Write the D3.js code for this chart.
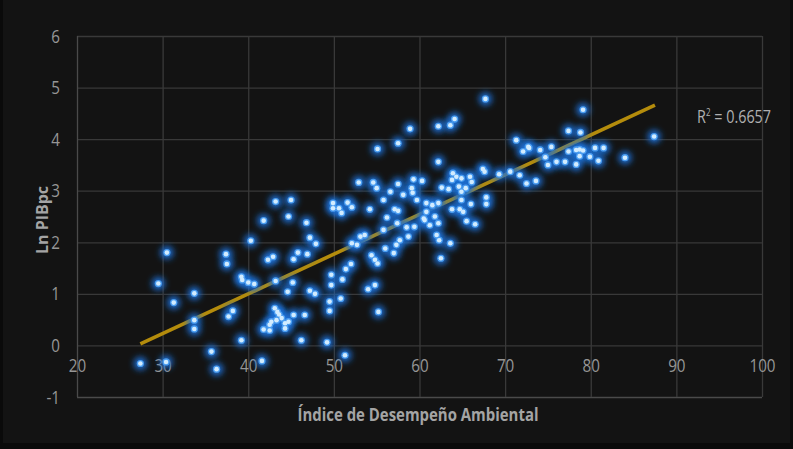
<!DOCTYPE html>
<html>
<head>
<meta charset="utf-8">
<script src="https://cdn.jsdelivr.net/npm/d3@7"></script>
<style>
  html, body { margin: 0; padding: 0; background: #0b0b0b; }
  svg { display: block; }
</style>
</head>
<body>
<svg id="chart" width="793" height="449"></svg>
<script>
// Environmental Performance Index (x) vs. log GDP per capita (y)
const epi = [
  27.4, 29.5, 30.4, 30.5, 31.3, 33.7, 33.7, 33.7, 35.7, 36.3, 37.4, 37.5, 37.7, 38.2, 39.2, 39.3, 39.2, 40.0, 40.7, 40.3, 41.8, 41.6,
  43.2, 45.0, 44.7, 42.3, 42.9, 43.2, 45.2, 44.6, 45.3, 45.8, 46.9, 46.8, 47.2, 47.9, 47.2, 47.8,
  43.1, 43.4, 43.6, 43.9, 43.3, 42.7, 42.5, 44.3, 44.7, 44.3, 42.5, 41.8, 45.3, 46.6,
  46.2, 49.2, 51.3,
  49.7, 49.7, 49.5, 49.5, 50.8, 51.0, 51.4, 52.0,
  54.0, 54.8, 55.2, 54.4, 54.8, 55.1, 57.0, 56.0,
  58.9, 55.1, 57.5, 52.9, 54.6, 55.0, 57.5, 56.6, 59.3, 60.3, 59.1, 59.2, 59.7, 58.1, 55.8,
  49.9, 49.9, 50.6, 50.9, 51.6, 52.1, 54.2, 57.1, 57.5, 56.2, 57.4, 58.5, 59.4, 60.6, 55.8, 53.1, 53.6, 52.1, 52.7, 57.7, 58.7, 57.3,
  62.2, 63.6, 64.1, 71.3, 72.1, 72.7, 62.2, 67.4, 67.6, 69.3, 70.6, 71.7, 72.5,
  63.9, 64.3, 63.8, 64.9, 65.9, 66.1, 62.6, 63.4, 64.6, 64.9, 65.4, 67.8, 67.8, 60.8, 61.5, 62.2, 64.9, 63.8, 64.7, 65.1, 66.0,
  60.8, 60.5, 61.2, 61.8, 62.2, 65.5, 66.5, 62.0, 62.3, 62.5, 63.6,
  67.7, 79.1, 77.4, 78.8, 84.0, 81.5, 80.5, 79.9, 80.9, 78.3, 78.7, 79.1, 78.7, 78.3, 77.4, 77.0, 76.0, 75.4, 74.1, 75.0, 74.7, 72.8, 73.6,
  87.4
];
const lnPib = [
  -0.35, 1.20, -0.32, 1.80, 0.83, 1.01, 0.49, 0.32, -0.12, -0.46, 1.77, 1.58, 0.56, 0.67, 1.33, 1.27, 0.10, 1.22, 1.19, 2.03, 2.42, -0.30,
  2.79, 2.82, 2.50, 1.66, 1.72, 1.25, 1.22, 1.04, 1.67, 1.80, 1.77, 2.38, 2.09, 1.97, 1.06, 1.00,
  0.72, 0.65, 0.60, 0.53, 0.49, 0.46, 0.40, 0.43, 0.46, 0.33, 0.29, 0.31, 0.59, 0.59,
  0.10, 0.06, -0.19,
  1.37, 1.17, 0.85, 0.67, 0.91, 1.28, 1.48, 1.58,
  1.09, 1.17, 0.65, 1.75, 1.66, 1.59, 1.79, 1.88,
  4.20, 3.81, 3.92, 3.16, 3.16, 3.05, 3.13, 2.98, 3.22, 3.19, 3.05, 2.96, 2.82, 2.92, 2.82,
  2.76, 2.66, 2.66, 2.57, 2.77, 2.68, 2.64, 2.64, 2.61, 2.48, 2.37, 2.29, 2.30, 2.43, 2.24, 2.11, 2.14, 1.98, 1.95, 2.04, 2.11, 1.95,
  4.25, 4.27, 4.39, 3.98, 3.76, 3.85, 3.56, 3.42, 3.37, 3.32, 3.37, 3.30, 3.14,
  3.34, 3.27, 3.21, 3.24, 3.27, 3.17, 3.06, 3.03, 3.08, 2.98, 3.05, 2.87, 2.74, 2.76, 2.72, 2.76, 2.82, 2.64, 2.64, 2.59, 2.74,
  2.59, 2.46, 2.33, 2.50, 2.37, 2.41, 2.35, 2.14, 2.04, 1.69, 1.98,
  4.78, 4.57, 4.16, 4.13, 3.64, 3.83, 3.83, 3.66, 3.58, 3.79, 3.80, 3.78, 3.67, 3.51, 3.76, 3.56, 3.56, 3.85, 3.79, 3.50, 3.65, 3.83, 3.19,
  4.05
];

// Linear trend (slope, intercept) and its x extent
const trendCoef = [0.0770, -2.080];
const trendRange = [27.4, 87.5];
const rSquared = "0.6657";

const xTicks = [20, 30, 40, 50, 60, 70, 80, 90, 100];
const yTicks = [-1, 0, 1, 2, 3, 4, 5, 6];

(function draw() {
  const svg = d3.select("#chart");
  const W = 793, H = 449;
  const m = { left: 77, right: 762, top: 36, bottom: 397 };
  const font = "'Open Sans', 'DejaVu Sans', sans-serif";
  const squeeze = 0.8;   // horizontal compression for a narrow label face

  // page background with darker frame
  svg.append("rect").attr("x", 0).attr("y", 0).attr("width", W).attr("height", H).attr("fill", "#0a0a0a");
  svg.append("rect").attr("x", 3).attr("y", 0).attr("width", W - 6).attr("height", H - 6).attr("fill", "#131313");

  const x = d3.scaleLinear().domain([20, 100]).range([m.left, m.right]);
  const y = d3.scaleLinear().domain([-1, 6]).range([m.bottom, m.top]);

  const defs = svg.append("defs");
  const glow = defs.append("filter").attr("id", "glow")
    .attr("x", "-100%").attr("y", "-100%").attr("width", "300%").attr("height", "300%");
  glow.append("feGaussianBlur").attr("stdDeviation", 3);
  const soft = defs.append("filter").attr("id", "soft")
    .attr("x", "-100%").attr("y", "-100%").attr("width", "300%").attr("height", "300%");
  soft.append("feGaussianBlur").attr("stdDeviation", 0.6);

  // gridlines
  const grid = svg.append("g");
  grid.selectAll("line.h").data(yTicks).join("line")
    .attr("x1", m.left).attr("x2", m.right)
    .attr("y1", d => y(d) + 0.5).attr("y2", d => y(d) + 0.5)
    .attr("stroke", d => d === -1 ? "#4a4a4a" : "#393939").attr("stroke-width", 1.3);
  grid.selectAll("line.v").data(xTicks).join("line")
    .attr("y1", m.top).attr("y2", m.bottom)
    .attr("x1", d => x(d) + 0.5).attr("x2", d => x(d) + 0.5)
    .attr("stroke", d => d === 20 ? "#4a4a4a" : "#393939").attr("stroke-width", 1.3);

  // y tick labels
  const yPad = 17;
  const yAxis = d3.axisLeft(y).tickValues(yTicks).tickSize(0).tickPadding(yPad).tickFormat(d => String(d));
  const gy = svg.append("g").attr("transform", `translate(${m.left},0)`).call(yAxis)
    .attr("font-family", font).attr("font-size", 19);
  gy.select(".domain").remove();
  gy.selectAll("text").attr("fill", "#969696")
    .attr("x", -yPad / squeeze).attr("transform", `scale(${squeeze},1)`);

  // x tick labels sit just under the zero line, where the horizontal axis crosses
  const xAxis = d3.axisBottom(x).tickValues(xTicks).tickSize(0).tickPadding(13).tickFormat(d => String(d));
  const gx = svg.append("g").attr("transform", `translate(0,${y(0)})`).call(xAxis)
    .attr("font-family", font).attr("font-size", 19);
  gx.select(".domain").remove();
  gx.selectAll("text").attr("fill", "#969696").attr("transform", `scale(${squeeze},1)`);

  // trend line
  const trendPts = trendRange.map(v => [v, trendCoef[0] * v + trendCoef[1]]);
  svg.append("path")
    .attr("d", d3.line().x(d => x(d[0])).y(d => y(d[1]))(trendPts))
    .attr("stroke", "#b48c0c").attr("stroke-width", 3.6).attr("fill", "none");

  // points: blurred blue halo + bright core
  const pts = epi.map((v, i) => [v, lnPib[i]]);
  const gPts = svg.append("g");
  gPts.selectAll("circle.halo").data(pts).join("circle")
    .attr("class", "halo")
    .attr("cx", d => x(d[0])).attr("cy", d => y(d[1])).attr("r", 6.5)
    .attr("fill", "#1f70d6").attr("filter", "url(#glow)");
  gPts.selectAll("circle.ring").data(pts).join("circle")
    .attr("class", "ring")
    .attr("cx", d => x(d[0])).attr("cy", d => y(d[1])).attr("r", 3.6)
    .attr("fill", "#4a9cf0").attr("filter", "url(#soft)");
  gPts.selectAll("circle.core").data(pts).join("circle")
    .attr("class", "core")
    .attr("cx", d => x(d[0])).attr("cy", d => y(d[1])).attr("r", 2.3)
    .attr("fill", "#d2ecff");

  // R² annotation
  const r2 = svg.append("text")
    .attr("transform", `translate(697,123) scale(0.8,1)`)
    .attr("fill", "#b0b0b0")
    .attr("font-family", font).attr("font-size", 18);
  r2.append("tspan").text("R");
  r2.append("tspan").attr("dy", -7).attr("font-size", 10).text("2");
  r2.append("tspan").attr("dy", 7).text(" = " + rSquared);

  // axis titles
  svg.append("text")
    .attr("transform", `translate(418,421) scale(0.83,1)`)
    .attr("text-anchor", "middle")
    .attr("fill", "#a4a4a4")
    .attr("font-family", font).attr("font-size", 18).attr("font-weight", "bold")
    .text("Índice de Desempeño Ambiental");

  svg.append("text")
    .attr("transform", "translate(48,220) rotate(-90)")
    .attr("text-anchor", "middle")
    .attr("fill", "#a4a4a4")
    .attr("font-family", font).attr("font-size", 16).attr("font-weight", "bold")
    .text("Ln PIBpc");
})();
</script>
</body>
</html>
